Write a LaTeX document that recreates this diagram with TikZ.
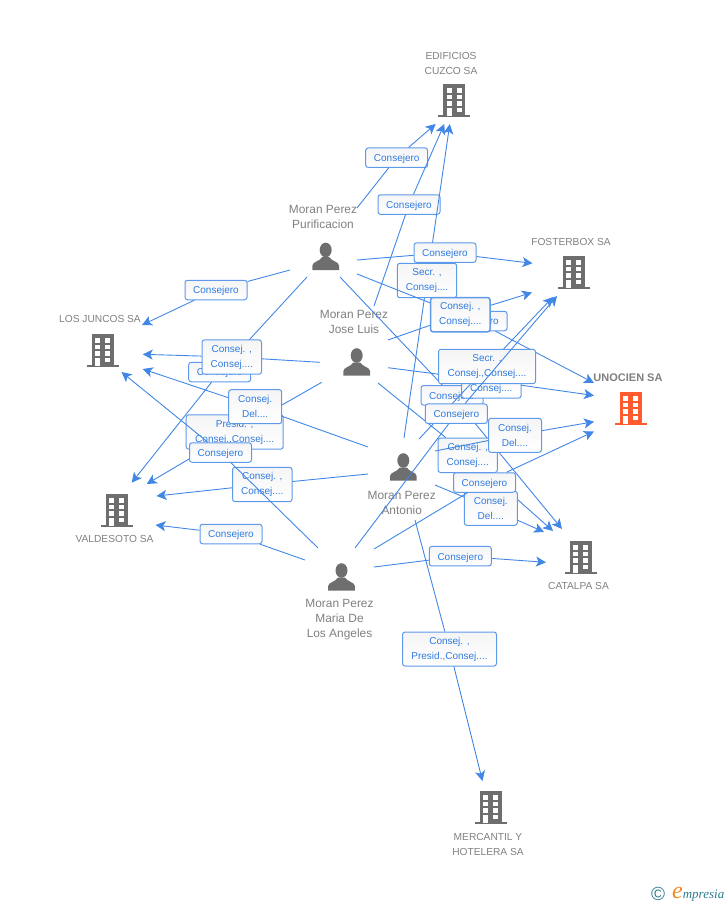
\documentclass[tikz,border=0pt]{standalone}
\usepackage{fontspec}
\setmainfont{Liberation Sans}
\newfontfamily\logofont{Liberation Serif}
\usepackage{xcolor}
\usetikzlibrary{arrows.meta}
\definecolor{linkblue}{HTML}{4287E6}
\definecolor{tagblue}{HTML}{2F7BE0}
\definecolor{icongray}{HTML}{6E6E6E}
\definecolor{namegray}{HTML}{808080}
\definecolor{hotorange}{HTML}{FF5B2E}
\definecolor{logoteal}{HTML}{2F7C8E}
\definecolor{logoorange}{HTML}{F08A1E}
\tikzset{
  link/.style={draw=linkblue,line width=0.9pt,-{Stealth[length=10pt,width=10pt,inset=2.5pt]}},
  tag/.style={draw=linkblue!85,line width=1pt,rounded corners=2.5pt,top color=black!4,bottom color=white,
    text=tagblue,font=\fontsize{10}{15}\selectfont,align=center,inner sep=0pt,minimum width=62pt,minimum height=19.5pt,
    execute at begin node={\rule{0pt}{10pt}}},
  tagtwo/.style={tag,minimum width=59.4pt,minimum height=34.4pt},
  tagdel/.style={tag,minimum width=53pt,minimum height=34pt},
  tagwide/.style={tag,minimum width=97pt,minimum height=34.4pt},
  tagdup/.style={line width=1.5pt},
  iconspot/.style={inner sep=0pt,minimum size=0pt},
  personname/.style={text=namegray,font=\fontsize{11.9}{15}\selectfont,align=center,inner sep=0pt},
  firmname/.style={text=namegray,font=\fontsize{10.2}{15}\selectfont,align=center,inner sep=0pt},
  pics/building/.style={code={
    \fill[#1] (-11,-15.7) rectangle (11,16);
    \fill[#1] (-16,15) rectangle (15.7,17.3);
    \foreach \wy/\wh in {-11.7/5,-5/4.4,1/4.7} {
      \fill[white] (-7.6,\wy) rectangle (-2.6,\wy+\wh);
      \fill[white] (2.4,\wy) rectangle (7.4,\wy+\wh);
    }
    \fill[white] (-7.6,7.7) rectangle (-2.6,16);
    \fill[white] (2.4,7.7) rectangle (7.4,12.3);
  }},
  pics/person/.style={code={
    \fill[icongray] (0,-7) ellipse (6 and 7.3);
    \fill[icongray] (-13.3,13) -- (-13.3,8.5) .. controls (-13,4.5) and (-6,4.5) .. (-3.5,0)
      -- (3.5,0) .. controls (6,4.5) and (13,4.5) .. (13.3,8.5) -- (13.3,13) -- cycle;
  }}
}

\begin{document}
\begin{tikzpicture}[x=1pt,y=-1pt]
  \useasboundingbox (0,0) rectangle (728,905);

  \node[iconspot] (pur) at (325.7,257) {};
  \node[iconspot] (jos) at (356.7,362.5) {};
  \node[iconspot] (ant) at (403.3,467.5) {};
  \node[iconspot] (mar) at (341.5,577.5) {};
  \node[iconspot] (edi) at (454.3,100) {};
  \node[iconspot] (fos) at (574,272) {};
  \node[iconspot] (jun) at (103,350) {};
  \node[iconspot] (val) at (117,510) {};
  \node[iconspot] (cat) at (581,557) {};
  \node[iconspot] (mer) at (491,807) {};
  \node[iconspot] (uno) at (631,408) {};

  \foreach \who in {pur,jos,ant,mar} \pic at (\who) {person};
  \foreach \what in {edi,fos,jun,val,cat,mer} \pic at (\what) {building=icongray};
  \pic at (uno) {building=hotorange};

  \node[personname] (purname) at (323,216.5) {Moran Perez\\Purificacion};
  \node[personname] (josname) at (354,321.5) {Moran Perez\\Jose Luis};
  \node[personname] (antname) at (401.7,502.5) {Moran Perez\\Antonio};
  \node[personname] (marname) at (339.5,620) {Moran Perez\\Maria De\\Los Angeles};
  \node[firmname] (ediname) at (451,63) {EDIFICIOS\\CUZCO SA};
  \node[firmname] (fosname) at (571,242) {FOSTERBOX SA};
  \node[firmname] (junname) at (100,319) {LOS JUNCOS SA};
  \node[firmname] (valname) at (114.5,539) {VALDESOTO SA};
  \node[firmname] (catname) at (578.5,586) {CATALPA SA};
  \node[firmname] (mername) at (488,844.5) {MERCANTIL Y\\HOTELERA SA};
  \node[firmname,font=\fontsize{11}{15}\selectfont\bfseries] (unoname) at (628,378) {UNOCIEN SA};

  % Purificacion
  \node[tag] (tgEdiPur) at (396.7,157.7) {Consejero};
  \draw[link] ([shift={(31.3,-49)}]pur.center) -- (tgEdiPur) -- ([shift={(-18.6,24)}]edi.center);
  \node[tag] (tgEdiJos) at (409,204.5) {Consejero};
  \draw[link] ([shift={(17.3,-56.5)}]jos.center) -- (tgEdiJos) -- ([shift={(-10,24)}]edi.center);
  \node[tagtwo] (tgEdiAnt) at (427,280.5) {Secr. ,\\Consej....};
  \draw[link] ([shift={(0.7,-29.5)}]ant.center) -- (tgEdiAnt) -- ([shift={(-4.5,24)}]edi.center);
  \node[tag] (tgFosPur) at (445,252.7) {Consejero};
  \draw[link] ([shift={(31.3,3)}]pur.center) -- (tgFosPur) -- ([shift={(-41.5,-8.7)}]fos.center);
  \node[tag] (tgUnoPur) at (476,321) {Consejero};
  \draw[link] ([shift={(31.3,17)}]pur.center) -- (tgUnoPur) -- ([shift={(-37,-25)}]uno.center);
  \node[tag] (tgCatPur) at (452,395.3) {Consejero};
  \draw[link] ([shift={(14.3,20)}]pur.center) -- (tgCatPur) -- ([shift={(-19,-28)}]cat.center);
  \node[tag] (tgValPur) at (219.7,372) {Consejero};
  \draw[link] ([shift={(-18.7,20)}]pur.center) -- (tgValPur) -- ([shift={(14.7,-27.3)}]val.center);
  \node[tag] (tgJunPur) at (216,290) {Consejero};
  \draw[link] ([shift={(-35.7,13)}]pur.center) -- (tgJunPur) -- ([shift={(39,-25)}]jun.center);

  % Jose Luis
  \node[tagtwo,tagdup] (tgFosJos) at (460.3,314.7) {Consej. ,\\Consej....};
  \draw[link] ([shift={(31.3,-22.5)}]jos.center) -- (tgFosJos) -- ([shift={(-42,20.5)}]fos.center);
  \node[tagtwo] (tgUnoJos) at (491.3,381) {Consej. ,\\Consej....};
  \draw[link] ([shift={(31.3,5.2)}]jos.center) -- (tgUnoJos) -- ([shift={(-37,-12.5)}]uno.center);
  \node[tagtwo] (tgCatJos) at (467.7,455.3) {Consej. ,\\Consej....};
  \draw[link] ([shift={(21.3,20.5)}]jos.center) -- (tgCatJos) -- ([shift={(-28,-26)}]cat.center);
  \node[tagtwo] (tgJunJos) at (231.8,357) {Consej. ,\\Consej....};
  \draw[link] ([shift={(-36.7,-0.2)}]jos.center) -- (tgJunJos) -- ([shift={(39.7,4.3)}]jun.center);
  \node[tagwide] (tgValJos) at (234.7,432) {Presid. ,\\Consej.,Consej....};
  \draw[link] ([shift={(-35,19.8)}]jos.center) -- (tgValJos) -- ([shift={(29.7,-26)}]val.center);

  % Antonio
  \node[tagwide] (tgFosAnt) at (487,366.5) {Secr. ,\\Consej.,Consej....};
  \draw[link] ([shift={(15.7,-28.5)}]ant.center) -- (tgFosAnt) -- ([shift={(-21,25)}]fos.center);
  \node[tagdel] (tgUnoAnt) at (515,435.3) {Consej.\\Del....};
  \draw[link] ([shift={(31.7,-16.5)}]ant.center) -- (tgUnoAnt) -- ([shift={(-37,13.7)}]uno.center);
  \node[tagdel] (tgCatAnt) at (490.8,508.3) {Consej.\\Del....};
  \draw[link] ([shift={(31.7,17.5)}]ant.center) -- (tgCatAnt) -- ([shift={(-37,-25)}]cat.center);
  \node[tagdel] (tgJunAnt) at (255.2,406.7) {Consej.\\Del....};
  \draw[link] ([shift={(-35.3,-20.5)}]ant.center) -- (tgJunAnt) -- ([shift={(39.7,19)}]jun.center);
  \node[tagtwo] (tgValAnt) at (262.3,484.5) {Consej. ,\\Consej....};
  \draw[link] ([shift={(-35.3,6.5)}]ant.center) -- (tgValAnt) -- ([shift={(39.5,-14)}]val.center);
  \node[tag,minimum width=94pt,minimum height=34pt] (tgMerAnt) at (449.5,649) {Consej. ,\\Presid.,Consej....};
  \draw[link] ([shift={(11.7,52.5)}]ant.center) -- (tgMerAnt) -- ([shift={(-8.5,-26)}]mer.center);

  % Maria
  \node[tag] (tgFosMar) at (456.3,413.7) {Consejero};
  \draw[link] ([shift={(13.5,-29.5)}]mar.center) -- (tgFosMar) -- ([shift={(-17,24)}]fos.center);
  \node[tag] (tgUnoMar) at (484.5,482.5) {Consejero};
  \draw[link] ([shift={(32.5,-28.5)}]mar.center) -- (tgUnoMar) -- ([shift={(-37,23.5)}]uno.center);
  \node[tag] (tgCatMar) at (460.3,556.2) {Consejero};
  \draw[link] ([shift={(32.5,-10.5)}]mar.center) -- (tgCatMar) -- ([shift={(-35,5.3)}]cat.center);
  \node[tag] (tgValMar) at (231,534) {Consejero};
  \draw[link] ([shift={(-36.5,-17.5)}]mar.center) -- (tgValMar) -- ([shift={(38.5,15)}]val.center);
  \node[tag] (tgJunMar) at (220.5,452.5) {Consejero};
  \draw[link] ([shift={(-23.5,-29.5)}]mar.center) -- (tgJunMar) -- ([shift={(18.5,22)}]jun.center);

  \node[inner sep=0pt,text=logoteal,font=\fontsize{19}{19}\selectfont] (logomark) at (658,893.5) {\textcopyright};
  \node[inner sep=0pt,anchor=base west,text=logoteal,font=\logofont\itshape\fontsize{13}{13}\selectfont] (logotext) at (672,898) {{\color{logoorange}\fontsize{24}{24}\selectfont e}mpresia};
\end{tikzpicture}
\end{document}
